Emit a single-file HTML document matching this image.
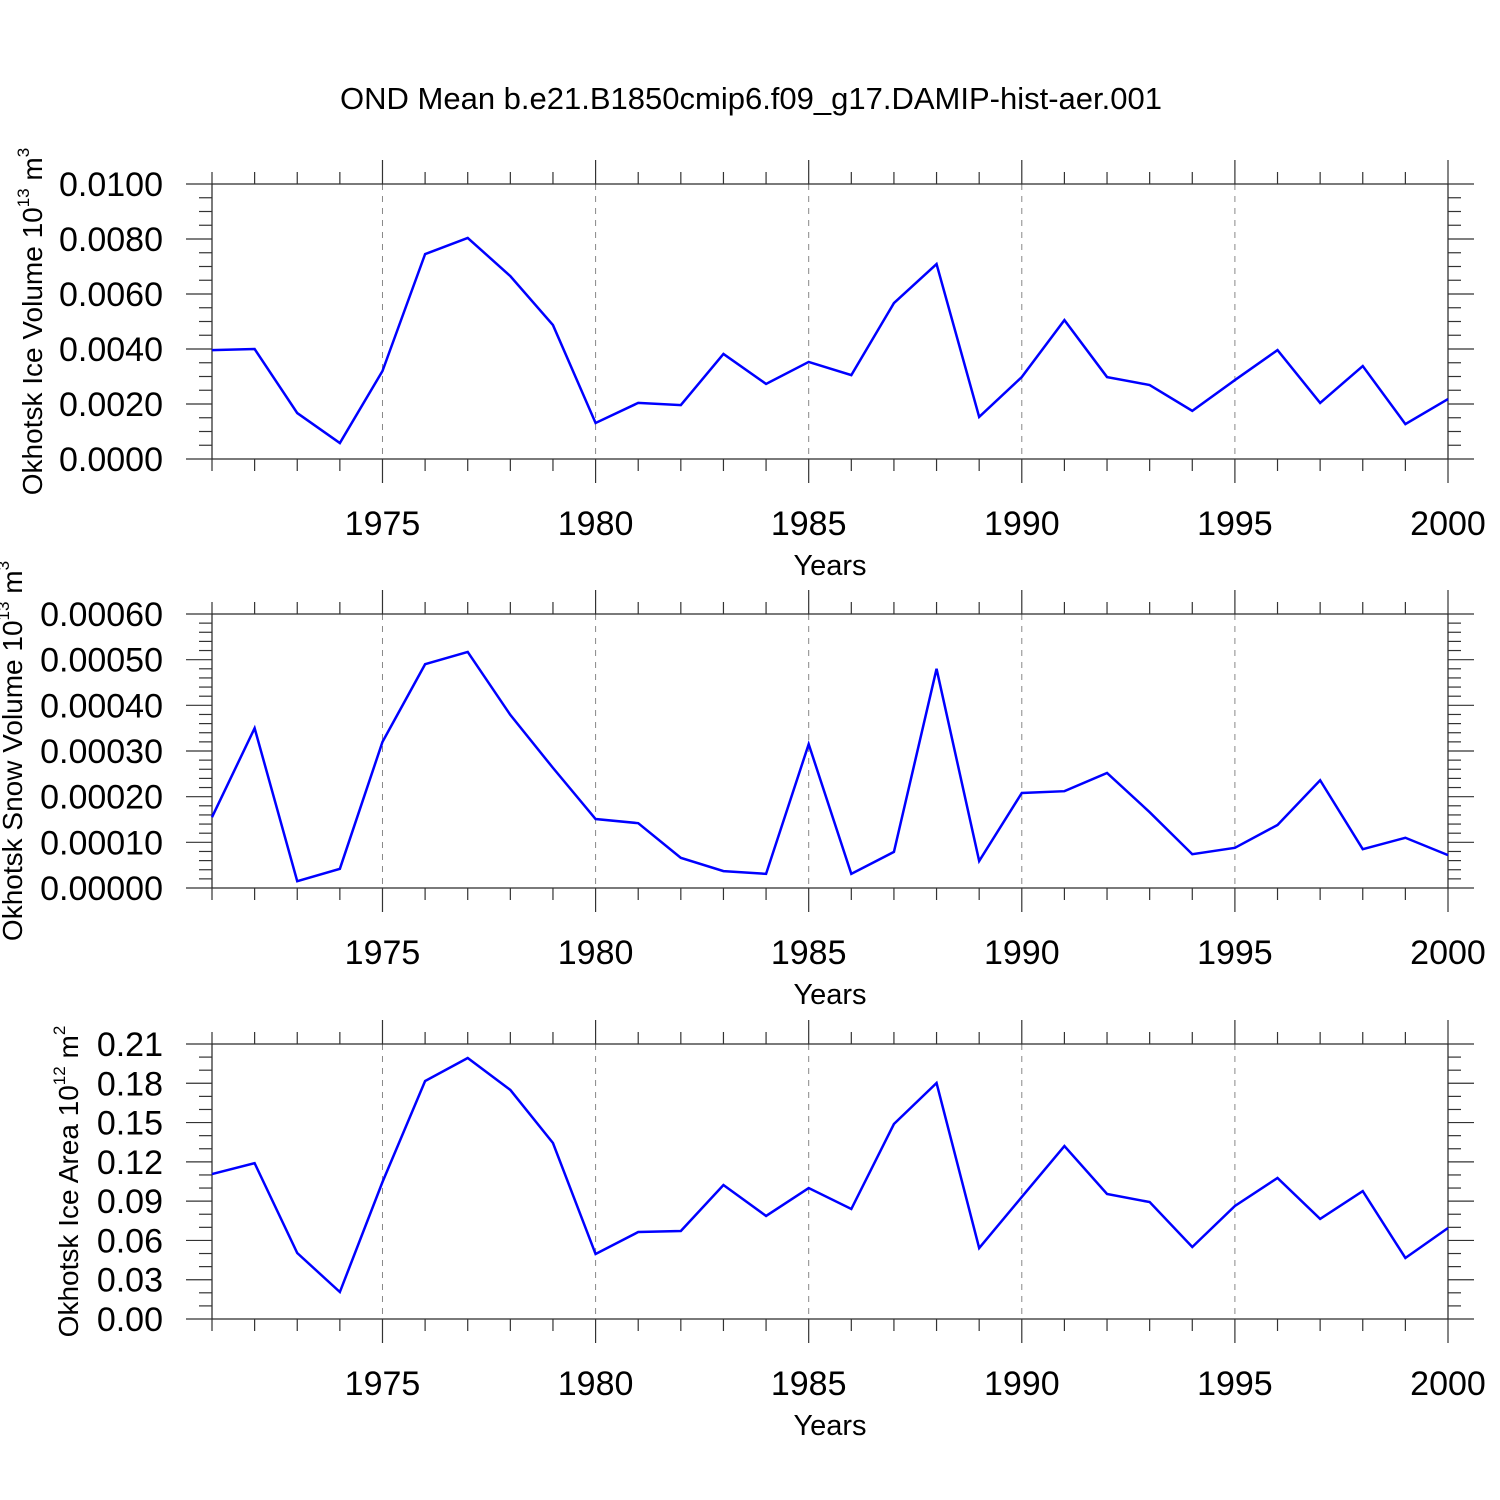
<!DOCTYPE html>
<html><head><meta charset="utf-8"><style>
body{margin:0;background:#fff}
svg{display:block;font-family:"Liberation Sans",Arial,sans-serif}
</style></head><body>
<svg id="chart" width="1500" height="1500" viewBox="0 0 1500 1500" xmlns="http://www.w3.org/2000/svg">
<rect width="1500" height="1500" fill="#fff"/>
<text x="751" y="109" font-size="31" text-anchor="middle">OND Mean b.e21.B1850cmip6.f09_g17.DAMIP-hist-aer.001</text>
</svg>
<script>
const years = [1971,1972,1973,1974,1975,1976,1977,1978,1979,1980,1981,1982,1983,1984,1985,1986,1987,1988,1989,1990,1991,1992,1993,1994,1995,1996,1997,1998,1999,2000];
const iceVolume = [0.00396,0.0040,0.00167,0.00058,0.0032,0.00745,0.00804,0.00665,0.00487,0.00131,0.00204,0.00196,0.00382,0.00273,0.00353,0.00305,0.00567,0.00709,0.00153,0.00298,0.00505,0.00298,0.00269,0.00175,0.00287,0.00396,0.00204,0.00338,0.00127,0.00218];
const snowVolume = [0.000155,0.00035,0.000015,0.000042,0.00032,0.00049,0.000517,0.000379,0.000263,0.000151,0.000142,0.000066,0.000037,0.000031,0.000315,0.000031,0.000079,0.00048,0.000059,0.000208,0.000212,0.000252,0.000166,0.000074,0.000088,0.000138,0.000236,0.000085,0.00011,0.000072];
const iceArea = [0.1107,0.119,0.0504,0.0206,0.1046,0.1817,0.1993,0.1749,0.1344,0.0496,0.0664,0.0672,0.1023,0.0787,0.1000,0.084,0.1489,0.1802,0.0542,0.0932,0.1321,0.0955,0.0893,0.055,0.0863,0.1077,0.0764,0.0977,0.0466,0.0695];
const xTickLabels = [1975,1980,1985,1990,1995,2000];
const iceVolumeTicks = ["0.0000","0.0020","0.0040","0.0060","0.0080","0.0100"];
const snowVolumeTicks = ["0.00000","0.00010","0.00020","0.00030","0.00040","0.00050","0.00060"];
const iceAreaTicks = ["0.00","0.03","0.06","0.09","0.12","0.15","0.18","0.21"];

const svg = document.getElementById('chart');
const NS = 'http://www.w3.org/2000/svg';
function mk(tag, attrs, parent){const e=document.createElementNS(NS,tag);for(const k in attrs)e.setAttribute(k,attrs[k]);(parent||svg).appendChild(e);return e;}

const X0=212, X1=1448, xMin=1971, xMax=2000;
function xs(v){return X0+(v-xMin)/(xMax-xMin)*(X1-X0);}

function panel(name, top, bottom, vals, ticks, step, nMinor, labelX, titleMain, sup, unitSup){
  const g=mk('g',{});
  
  
  const yMax=parseFloat(ticks[ticks.length-1]);
  const ys=v=>bottom-(v/yMax)*(bottom-top);
  xTickLabels.forEach(yr=>{ if(yr<xMax){ const l=mk('line',{x1:xs(yr),x2:xs(yr),y1:top,y2:bottom,stroke:'#888','stroke-width':1,'stroke-dasharray':'6,6'},g);
    
    }});
  const fr=mk('rect',{x:X0,y:top,width:X1-X0,height:bottom-top,fill:'none',stroke:'#222','stroke-width':1.2},g);
  
  
  for(let yr=xMin; yr<=xMax; yr++){
    const major = xTickLabels.includes(yr);
    const len = major?24:12;
    mk('line',{x1:xs(yr),x2:xs(yr),y1:top-len,y2:top,stroke:'#333','stroke-width':1.2},g);
    mk('line',{x1:xs(yr),x2:xs(yr),y1:bottom,y2:bottom+len,stroke:'#333','stroke-width':1.2},g);
  }
  xTickLabels.forEach(yr=>{
    const t=mk('text',{x:xs(yr),y:bottom+76,'font-size':34,'text-anchor':'middle'},g);
    
    
    t.textContent=yr;
  });
  const xt=mk('text',{x:830,y:bottom+116,'font-size':29,'text-anchor':'middle'},g);
  
  
  xt.textContent='Years';
  const n=ticks.length-1;
  for(let i=0;i<=n*(nMinor+1);i++){
    const v=i*step/(nMinor+1);
    const y=ys(v);
    const major=i%(nMinor+1)===0;
    const len=major?26:13;
    mk('line',{x1:X0-len,x2:X0,y1:y,y2:y,stroke:'#333','stroke-width':1.2},g);
    mk('line',{x1:X1,x2:X1+len,y1:y,y2:y,stroke:'#333','stroke-width':1.2},g);
  }
  ticks.forEach((lab,i)=>{
    const t=mk('text',{x:163,y:ys(i*step)+12,'font-size':34,'text-anchor':'end'},g);
    
    
    t.textContent=lab;
  });
  const cy=(top+bottom)/2;
  const yt=mk('text',{x:0,y:0,'font-size':28,'text-anchor':'middle',transform:`translate(${labelX},${cy}) rotate(-90)`},g);
  
  
  const s1=mk('tspan',{},yt); s1.textContent=titleMain;
  const s2=mk('tspan',{dy:-13,'font-size':17},yt); s2.textContent=sup;
  const s3=mk('tspan',{dy:13},yt); s3.textContent=' m';
  const s4=mk('tspan',{dy:-13,'font-size':17},yt); s4.textContent=unitSup;
  const pts=vals.map((v,i)=>xs(years[i])+','+ys(v)).join(' ');
  const pl=mk('polyline',{points:pts,fill:'none',stroke:'#0000ff','stroke-width':2.5,'stroke-linejoin':'miter'},g);
  
  
}
panel('ice-volume',184,459,iceVolume,iceVolumeTicks,0.002,3,42,'Okhotsk Ice Volume 10','13','3');
panel('snow-volume',614,888,snowVolume,snowVolumeTicks,0.0001,4,22,'Okhotsk Snow Volume 10','13','3');
panel('ice-area',1044,1319,iceArea,iceAreaTicks,0.03,2,78,'Okhotsk Ice Area 10','12','2');
</script>
</body></html>
